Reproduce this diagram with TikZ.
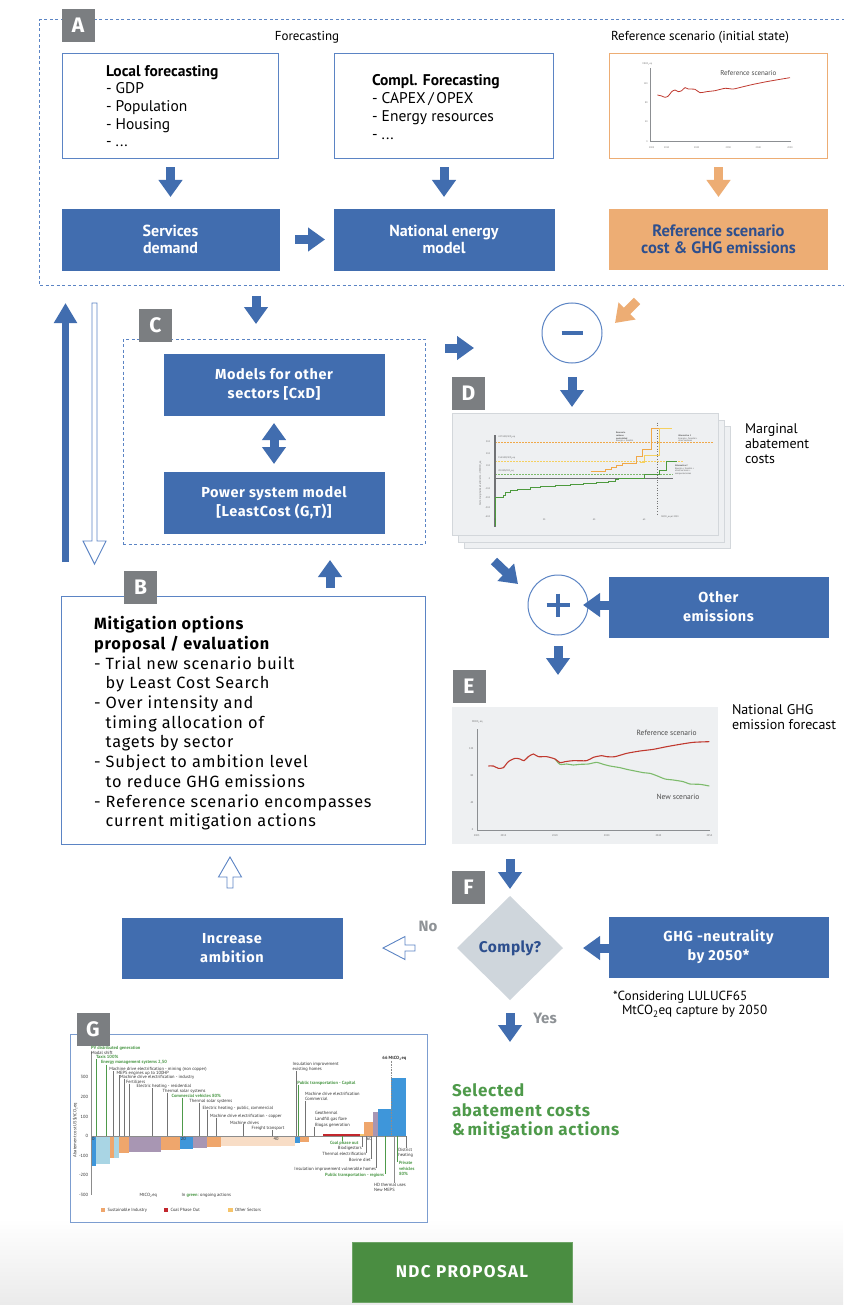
\documentclass[tikz,border=0pt]{standalone}
\usepackage{fontspec}
\setmainfont{Fira Sans}
\newfontfamily\cond{PT Sans}
\usetikzlibrary{arrows.meta,shapes.geometric,calc}
\definecolor{mblue}{HTML}{416DAF}
\definecolor{lblue}{HTML}{5B84C4}
\definecolor{morange}{HTML}{EDAD74}
\definecolor{tblue}{HTML}{2D4F8E}
\definecolor{lgray}{HTML}{7B7E81}
\definecolor{dgray}{HTML}{CFD6DC}
\definecolor{tgreen}{HTML}{4E9A4A}
\definecolor{ngreen}{HTML}{4A8D41}
\definecolor{cbg}{HTML}{EEF0F2}
\definecolor{cborder}{HTML}{D3D7DB}
\definecolor{refred}{HTML}{C0392F}
\definecolor{newgreen}{HTML}{7DBB6C}
\definecolor{gblue}{HTML}{3E96DA}
\definecolor{glblue}{HTML}{A9D5E4}
\definecolor{gorange}{HTML}{EFA66C}
\definecolor{gmauve}{HTML}{A896B3}
\definecolor{gpeach}{HTML}{F8DDC6}
\definecolor{gred}{HTML}{C2272D}
\definecolor{gyellow}{HTML}{F6C46A}
\definecolor{dorange}{HTML}{F0A848}
\definecolor{dyellow}{HTML}{F5D060}
\definecolor{dgreen}{HTML}{4D9A3E}
\definecolor{axgray}{HTML}{8C8F92}
\definecolor{notegray}{HTML}{8E9296}
\tikzset{
  tag/.style={fill=lgray, text=white, font=\fontsize{21}{21}\selectfont\bfseries, minimum width=33pt, minimum height=33pt},
  bluebox/.style={fill=mblue, draw=mblue, text=white, align=center},
  btxt/.style={font=\fontsize{14.5}{19}\selectfont\bfseries\addfontfeature{LetterSpace=4}},
  atxt/.style={font=\cond\fontsize{16}{17.5}\selectfont\bfseries},
  barrow/.style={draw=mblue, line width=9pt, -{Triangle[length=17pt,width=23pt]}},
  oarrow/.style={draw=morange, line width=9pt, -{Triangle[length=17pt,width=23pt]}},
  hollow/.style={draw=lblue, line width=0.9pt, fill=white},
  dashbox/.style={draw=lblue, line width=1pt, dash pattern=on 3pt off 2.5pt},
  sidetxt/.style={font=\cond\fontsize{14}{15}\selectfont, align=left, anchor=north west},
}
\begin{document}
\begin{tikzpicture}[x=1pt,y=-1pt, every node/.style={inner sep=0pt, outer sep=0pt}]
\useasboundingbox (0,0) rectangle (843,1305);
\fill[white] (0,0) rectangle (843,1305);
\shade[top color=white, bottom color=black!8] (0,1218) rectangle (843,1305);

% ---------------- A ----------------
\draw[dashbox] (850,20) -- (39,20) -- (39,286) -- (850,286);
\node[tag] (tagA) at (78,25.5) {A};
\node[font=\cond\fontsize{13}{13}\selectfont] (fcst) at (307,37) {Forecasting};
\node[font=\cond\fontsize{13}{13}\selectfont] (refttl) at (700,37) {Reference scenario (initial state)};
\node[draw=lblue, line width=1.7pt, minimum width=216pt, minimum height=105pt] (local) at (170.5,106) {};
\node[anchor=north west, align=left, font=\cond\fontsize{15.5}{17.7}\selectfont] (localtxt) at (106,65) {\textbf{Local forecasting}\\- GDP\\- Population\\- Housing\\- ...};
\node[draw=lblue, line width=1.7pt, minimum width=219pt, minimum height=105pt] (compl) at (444,106) {};
\node[anchor=north west, align=left, font=\cond\fontsize{15.5}{17.9}\selectfont] (compltxt) at (372,74.5) {\textbf{Compl. Forecasting}\\- CAPEX\,/\,OPEX\\- Energy resources\\- ...};
\node[draw=morange, line width=1.7pt, minimum width=218pt, minimum height=105pt] (refchart) at (718.5,106) {};
\node[bluebox, minimum width=217pt, minimum height=61pt, atxt] (services) at (170.5,239.5) {Services\\demand};
\node[bluebox, minimum width=220pt, minimum height=61pt, atxt] (national) at (444,239.5) {National energy\\model};
\node[fill=morange, text=tblue, align=center, minimum width=219pt, minimum height=61pt, font=\cond\fontsize{16.5}{17.5}\selectfont\bfseries] (refcost) at (718.5,239.5) {Reference scenario\\cost \& GHG emissions};
\draw[barrow, shorten <=9pt, shorten >=12pt] (local) -- (services);
\draw[barrow, shorten <=9pt, shorten >=12pt] (compl) -- (national);
\draw[barrow, shorten <=16pt, shorten >=9pt] (services) -- (national);
\draw[oarrow, shorten <=9pt, shorten >=12pt] (refchart) -- (refcost);

% reference mini chart
\begin{scope}[shift={(600,40)}, x=0.33333pt, y=-0.33333pt, font=\cond\fontsize{2.4}{2.8}\selectfont, text=black!60]
\draw[axgray, line width=0.9pt] (152,85) -- (152,305) -- (572,305);
\foreach \yy/\v [count=\i] in {130/120,188/80,245/40,305/0} \node[anchor=east] (ry\i) at (143,\yy) {\v};
\node (ryu) at (142,72) {MtCO\textsubscript{2}eq};
\foreach \xx/\v [count=\i] in {155/2005,200/2010,290/2020,385/2030,475/2040,570/2050} \node (rx\i) at (\xx,322) {\v};
\draw[refred, line width=0.8pt] plot[smooth, tension=0.4] coordinates {(172,165) (185,168) (195,172) (205,168) (215,155) (225,150) (235,155) (245,152) (255,143) (265,147) (285,148) (300,158) (320,155) (345,152) (375,145) (400,147) (430,140) (460,133) (500,125) (540,118) (570,113)};
\node[font=\cond\fontsize{7}{7}\selectfont, text=black!70] (rlab) at (445,98) {Reference scenario};
\end{scope}

% ---------------- side arrows ----------------
\coordinate (upbot) at (65.5,562);
\draw[mblue, line width=7pt, -{Triangle[length=20pt,width=22pt]}] (upbot) -- (65.5,303);
\draw[hollow] (92,303) -- (97,303) -- (97,541) -- (106,541) -- (94.5,564) -- (83,541) -- (92,541) -- cycle;

% ---------------- C ----------------
\node[dashbox, minimum width=302pt, minimum height=205pt] (cbox) at (274,441.5) {};
\node[tag] (tagC) at (155.5,325.5) {C};
\node[bluebox, minimum width=220pt, minimum height=61pt, btxt] (models) at (274,384.5) {Models for other\\sectors [CxD]};
\node[bluebox, minimum width=220pt, minimum height=61pt, btxt] (power) at (274,502.5) {Power system model\\{[}LeastCost (G,T){]}};
\draw[mblue, line width=9pt, {Triangle[length=17pt,width=23pt]}-{Triangle[length=17pt,width=23pt]}, shorten <=8pt, shorten >=8pt] (models) -- (power);
\coordinate (aout) at (256,296);
\draw[barrow, shorten >=15pt] (aout) -- (aout |- cbox.north);
\coordinate (c2m) at (445,348);
\draw[barrow] (c2m) -- ++(29,0);

% ---------------- minus / D ----------------
\node[circle, draw=lblue, line width=1pt, minimum size=60pt] (minus) at (572,333) {};
\draw[mblue, line width=4.5pt] ($(minus)+(-10.5,0)$) -- ($(minus)+(10.5,0)$);
\coordinate (o2m) at (637,301);
\draw[oarrow] (o2m) -- (615,323);
\node[fill=cbg, draw=cborder, line width=0.8pt, minimum width=266pt, minimum height=122pt] (dback2) at (597,487) {};
\node[fill=cbg, draw=cborder, line width=0.8pt, minimum width=266pt, minimum height=122pt] (dback1) at (591,481) {};
\node[fill=cbg, draw=cborder, line width=0.8pt, minimum width=266pt, minimum height=122pt] (dfront) at (585,474) {};
\node[tag] (tagD) at (468.5,393) {D};
\draw[barrow, shorten <=14pt, shorten >=6pt] (minus.south) -- (minus.south |- dfront.north);
\node[sidetxt] (mac) at (745,424) {Marginal\\abatement\\costs};

\begin{scope}[shift={(440,420)}, x=0.33333pt, y=-0.33333pt, font=\cond\fontsize{2.3}{2.7}\selectfont, text=black!65]
\draw[dorange, line width=0.7pt, dash pattern=on 1.5pt off 1.5pt] (165,66) -- (819,66);
\draw[dyellow, line width=0.7pt, dash pattern=on 1.5pt off 1.5pt] (165,125) -- (729,125);
\draw[newgreen, line width=0.7pt, dash pattern=on 1.5pt off 1.5pt] (165,163) -- (700,163);
\draw[axgray!80!black, line width=1.3pt] (165,176) -- (698,176);
\draw[axgray!80!black, line width=1.2pt] (165,45) -- (165,320);
\draw[black!55, line width=0.9pt, dash pattern=on 1pt off 1.6pt] (652,8) -- (652,285);
\draw[dorange, line width=0.7pt] (452,153) -- (497,153) -- (497,148) -- (515,148) -- (515,143) -- (528,143) -- (528,137) -- (547,137) -- (547,130) -- (588,130) -- (588,110) -- (607,110) -- (607,87) -- (633,87) -- (633,25) -- (690,25);
\draw[dyellow, line width=0.7pt] (600,128) -- (614,128) -- (614,106) -- (658,106) -- (658,25) -- (695,25);
\draw[dgreen, line width=0.8pt] (165,318) -- (165,232) -- (190,232) -- (190,226) -- (197,226) -- (197,218) -- (210,218) -- (210,211) -- (232,211) -- (232,207) -- (270,207) -- (270,203) -- (300,203) -- (300,199) -- (345,199) -- (345,196) -- (390,196) -- (390,193) -- (430,193) -- (430,190) -- (470,190) -- (470,187) -- (505,187) -- (505,183) -- (525,183) -- (525,179) -- (535,179) -- (535,174) -- (612,174) -- (612,163) -- (658,163) -- (658,150) -- (680,150) -- (680,125) -- (712,125);
\foreach \yy/\v [count=\i] in {66/300,100/200,138/100,176/0,205/-100,233/-200,262/-300,290/-400} \node[anchor=east] (dy\i) at (150,\yy) {\v};
\foreach \xx/\v [count=\i] in {165/0,312/20,462/40,612/60} \node (dx\i) at (\xx,300) {\v};
\node[rotate=90] (dyt) at (122,190) {Costo marginal de abatimiento - USD/tCO\textsubscript{2}eq};
\node (dxt) at (690,292) {MtCO\textsubscript{2}eq al 2050};
\node[anchor=west] (dl1) at (175,53) {247 USD/tCO\textsubscript{2}eq};
\node[anchor=west] (dl2) at (175,114) {154 USD/tCO\textsubscript{2}eq};
\node[anchor=west] (dl3) at (175,153) {28 USD/tCO\textsubscript{2}eq};
\node[anchor=north west, align=left] (dl4) at (528,36) {\textbf{Escenario}\\\textbf{carbono}\\\textbf{neutralidad}\\Energía + forestal};
\node[anchor=north west, align=left] (dl5) at (715,44) {\textbf{Alternativa 1}\\Energía + forestal +\\otros sectores};
\node[anchor=north west, align=left] (dl6) at (705,134) {\textbf{Alternativa 2}\\Energía + forestal +\\otros sectores +\\compensaciones};
\end{scope}

% ---------------- plus ----------------
\coordinate (d2p) at (494,561);
\draw[barrow] (d2p) -- ++(24,23);
\node[circle, draw=lblue, line width=1pt, minimum size=60pt] (plus) at (558,605) {};
\draw[mblue, line width=4.5pt] ($(plus)+(-11.5,0)$) -- ($(plus)+(11.5,0)$);
\draw[mblue, line width=4.5pt] ($(plus)+(0,-11.5)$) -- ($(plus)+(0,11.5)$);
\node[bluebox, minimum width=219pt, minimum height=60pt, btxt] (other) at (718.5,607) {Other\\emissions};
\draw[barrow, shorten >=-5pt] (other.west |- plus.east) -- (plus.east);

% ---------------- E ----------------
\node[fill=cbg, minimum width=266pt, minimum height=137pt] (echart) at (585,775.5) {};
\node[tag] (tagE) at (469,686) {E};
\draw[barrow, shorten <=11pt, shorten >=32pt] (plus.south) -- (plus.south |- echart.north);
\node[sidetxt] (ghgf) at (732,705) {National GHG\\emission forecast};
\begin{scope}[shift={(440,680)}, x=0.33333pt, y=-0.33333pt, font=\cond\fontsize{2.6}{3}\selectfont, text=black!60]
\draw[axgray, line width=1pt] (112,148) -- (112,450) -- (810,450);
\node (eyu) at (112,125) {MtCO\textsubscript{2}eq};
\foreach \yy/\v [count=\i] in {207/120,288/80,368/40,448/0} \node[anchor=east] (ey\i) at (100,\yy) {\v};
\foreach \xx/\v [count=\i] in {110/2005,190/2010,345/2020,500/2030,655/2040,808/2050} \node (ex\i) at (\xx,466) {\v};
\draw[newgreen, line width=1.1pt] plot[smooth, tension=0.4] coordinates {(345,237) (360,253) (380,252) (400,255) (420,253) (445,252) (470,247) (490,253) (510,258) (540,263) (560,268) (580,272) (610,278) (630,280) (650,287) (675,297) (700,300) (730,305) (750,312) (780,313) (808,318)};
\draw[refred, line width=1.1pt] plot[smooth, tension=0.4] coordinates {(145,258) (160,258) (175,265) (190,263) (205,245) (225,235) (240,237) (252,242) (265,230) (280,222) (295,230) (320,230) (345,237) (360,248) (375,245) (400,242) (440,242) (460,232) (485,227) (500,230) (525,230) (560,220) (600,213) (640,208) (680,200) (720,193) (760,187) (808,185)};
\node[font=\cond\fontsize{7.5}{7.5}\selectfont, text=black!70] (erl) at (680,160) {Reference scenario};
\node[font=\cond\fontsize{7.5}{7.5}\selectfont, text=black!70] (enl) at (714,350) {New scenario};
\end{scope}

% ---------------- B ----------------
\node[draw=lblue, line width=1pt, fill=white, minimum width=364pt, minimum height=248pt] (bbox) at (243,720) {};
\node[tag] (tagB) at (140.5,587.5) {B};
\node[anchor=north west, align=left, font=\fontsize{16.3}{19.7}\selectfont\addfontfeature{LetterSpace=5}] (btext) at (94,616.5) {\textbf{Mitigation options}\\\textbf{proposal / evaluation}\\- Trial new scenario built\\\phantom{- }by Least Cost Search\\- Over intensity and\\\phantom{- }timing allocation of\\\phantom{- }tagets by sector\\- Subject to ambition level\\\phantom{- }to reduce GHG emissions\\- Reference scenario encompasses\\\phantom{- }current mitigation actions};
\coordinate (bup) at (330,588);
\draw[barrow, shorten >=16pt] (bup) -- (bup |- cbox.south);
\draw[hollow] (230,857) -- (241.5,877) -- (233,877) -- (233,888) -- (227,888) -- (227,877) -- (218.5,877) -- cycle;

% ---------------- F ----------------
\node[diamond, fill=dgray, minimum width=106pt, minimum height=104pt, text=tblue, font=\fontsize{15.5}{15.5}\selectfont\bfseries\addfontfeature{LetterSpace=3}] (comply) at (510,948) {Comply?};
\node[tag] (tagF) at (468.5,887.5) {F};
\draw[barrow, shorten <=15pt, shorten >=7pt] (echart.south -| comply.north) -- (comply.north);
\node[bluebox, minimum width=219pt, minimum height=60pt, btxt] (ghg) at (718.5,947) {GHG -neutrality\\by 2050*};
\draw[barrow, shorten >=20pt] (ghg.west |- comply.east) -- (comply.east);
\node[anchor=north west, align=left, font=\cond\fontsize{13.2}{14.5}\selectfont] (note) at (613,991) {*Considering LULUCF65\\\hspace*{9pt}MtCO\textsubscript{2}eq capture by 2050};
\node[bluebox, minimum width=220pt, minimum height=60pt, btxt] (increase) at (232,948) {Increase\\ambition};
\draw[hollow] (383,948) -- (405,936.5) -- (405,945) -- (415,945) -- (415,951) -- (405,951) -- (405,959.5) -- cycle;
\node[text=notegray, font=\fontsize{15}{15}\selectfont\bfseries] (no) at (428,926) {No};
\node[text=notegray, font=\fontsize{15}{15}\selectfont\bfseries] (yes) at (545,1018) {Yes};
\draw[barrow, shorten <=13pt] (comply.south) -- ++(0,42);

% ---------------- G ----------------
\node[draw=lblue!80, line width=1pt, fill=white, minimum width=357pt, minimum height=188pt] (gbox) at (248.5,1128) {};
\node[tag] (tagG) at (93,1029) {G};
\begin{scope}[shift={(60,1020)}, x=0.33333pt, y=-0.33333pt, font=\cond\fontsize{4.5}{5}\selectfont, text=black!80]
\fill[gblue] (93,348) rectangle (108,438);
\fill[glblue] (108,348) rectangle (150,433);
\fill[gorange] (150,348) rectangle (163,415);
\fill[glblue] (163,348) rectangle (178,413);
\fill[gorange] (178,348) rectangle (207,400);
\fill[gmauve] (207,348) rectangle (303,397);
\fill[gorange] (303,348) rectangle (360,390);
\fill[gblue] (360,348) rectangle (400,387);
\fill[gmauve] (400,348) rectangle (442,385);
\fill[gorange] (442,348) rectangle (483,380);
\fill[gpeach] (483,348) rectangle (705,378);
\fill[gblue] (705,348) rectangle (720,370);
\fill[gorange] (720,348) rectangle (748,366);
\fill[gred] (788,343) rectangle (900,348);
\fill[gyellow] (900,348) rectangle (912,343);
\fill[gorange] (912,348) rectangle (940,305);
\fill[gmauve] (940,348) rectangle (955,275);
\fill[gblue] (955,348) rectangle (993,268);
\fill[gblue] (993,348) rectangle (1037,173);
\draw[black!45, line width=0.4pt] (93,95) -- (93,525);
\draw[black!45, line width=0.4pt] (93,348) -- (1040,348);
\draw[black!45, line width=0.4pt, dash pattern=on 0.8pt off 0.8pt] (993,122) -- (993,348);
\node[font=\cond\fontsize{4.5}{5}\selectfont\bfseries] (g66) at (1003,115) {66 MtCO\textsubscript{2}eq};
\foreach \yy/\v [count=\i] in {170/300,230/200,290/100,348/0,408/-100,466/-200,525/-300} \node[anchor=east] (gy\i) at (84,\yy) {\v};
\foreach \xx/\v [count=\i] in {100/0,370/20,648/40,928/60} \node (gx\i) at (\xx,358) {\v};
\node[rotate=90] (gyt) at (45,330) {Abatement cost US\$/tCO\textsubscript{2}eq};
% leaders top
\foreach \xx/\yy/\col in {108/117/tgreen,138/134/tgreen,160/153/black!55,178/165/black!55,193/178/black!55,207/191/black!55,278/205/black!55,322/218/black!55,368/233/tgreen,418/250/black!55,443/270/black!55,468/293/black!55,550/313/black!55,638/330/black!55,708/152/black!55,716/195/tgreen,735/242/black!55,763/320/black!55}
  \draw[\col, line width=0.4pt] (\xx,\yy) -- (\xx,348);
% leaders bottom
\foreach \xx/\yy/\col in {848/364/tgreen,907/381/black!55,920/399/black!55,935/416/black!55,950/443/black!55,975/461/tgreen,1003/488/black!45,1013/425/tgreen,1040/383/black!55}
  \draw[\col, line width=0.4pt] (\xx,348) -- (\xx,\yy);
\foreach \xx/\yy/\col/\txt [count=\i] in {
  93/85/tgreen/{\textbf{PV distributed generation}},
  93/98/black!80/{Modal shift},
  108/112/tgreen/{\textbf{Taxis 100\%}},
  123/128/tgreen/{\textbf{Energy management systems 2,50}},
  148/148/black!80/{Machine drive electrification - mining (non copper)},
  170/160/black!80/{MEPS engines up to 100HP},
  180/173/black!80/{Machine drive electrification - industry},
  198/186/black!80/{Fertilizers},
  230/200/black!80/{Electric heating - residential},
  308/213/black!80/{Thermal solar systems},
  335/228/tgreen/{\textbf{Commercial vehicles 80\%}},
  388/245/black!80/{Thermal solar systems},
  428/265/black!80/{Electric heating - public, commercial},
  450/288/black!80/{Machine drive electrification - copper},
  510/308/black!80/{Machine drives},
  575/325/black!80/{Freight transport},
  698/132/black!80/{Insulation improvement},
  698/147/black!80/{existing homes},
  712/190/tgreen/{\textbf{Public transportation - Capital}},
  735/222/black!80/{Machine drive electrification},
  735/237/black!80/{Commercial},
  765/280/black!80/{Geothermal},
  765/298/black!80/{Landfill gas flare},
  765/315/black!80/{Biogas generation},
  942/494/black!80/{HD thermal uses},
  942/510/black!80/{New MEPS},
  1017/430/tgreen/{\textbf{Private}},
  1017/447/tgreen/{\textbf{vehicles}},
  1017/463/tgreen/{\textbf{80\%}},
  1015/390/black!80/{District},
  1015/405/black!80/{heating}}
  \node[anchor=west, text=\col] (gt\i) at (\xx,\yy) {\txt};
\foreach \xx/\yy/\col/\txt [count=\i] in {
  895/370/tgreen/{\textbf{Coal phase out}},
  905/386/black!80/{Biodigestors},
  918/403/black!80/{Thermal electrification},
  932/420/black!80/{Bovine diet},
  948/447/black!80/{Insulation improvement vulnerable homes},
  972/465/tgreen/{\textbf{Public transportation - regions}}}
  \node[anchor=east, text=\col] (gb\i) at (\xx,\yy) {\txt};
\node (gxu) at (265,525) {MtCO\textsubscript{2}eq};
\node[anchor=west] (gnote) at (365,525) {In \textcolor{tgreen}{\textbf{green}}: ongoing actions};
\fill[gorange] (123,564) rectangle (136,577);
\node[anchor=west] (leg1) at (143,570) {Sustainable Industry};
\fill[gred] (312,564) rectangle (325,577);
\node[anchor=west] (leg2) at (332,570) {Coal Phase Out};
\fill[gyellow] (505,564) rectangle (518,577);
\node[anchor=west] (leg3) at (525,570) {Other Sectors};
\end{scope}

% ---------------- result ----------------
\node[anchor=north west, align=left, text=tgreen, font=\fontsize{17}{19.5}\selectfont\bfseries\addfontfeature{LetterSpace=4}] (selected) at (452,1084) {Selected\\abatement costs\\\&\,mitigation actions};
\node[fill=ngreen, draw=ngreen!80!white, text=white, minimum width=220pt, minimum height=60pt, font=\fontsize{17}{17}\selectfont\bfseries\addfontfeature{LetterSpace=8}] (ndc) at (462,1272) {NDC PROPOSAL};
\end{tikzpicture}
\end{document}
